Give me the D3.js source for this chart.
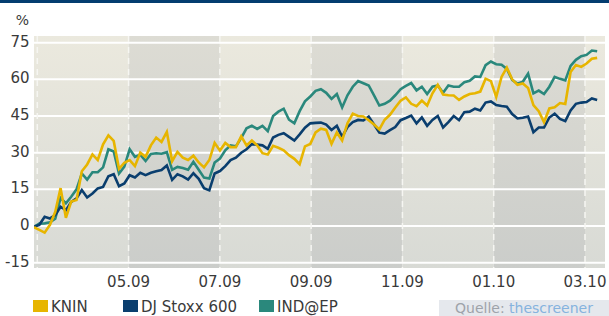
<!DOCTYPE html>
<html>
<head>
<meta charset="utf-8">
<title>KNIN vs DJ Stoxx 600 vs IND@EP</title>
<script src="https://d3js.org/d3.v7.min.js"></script>
<style>
  body { margin: 0; background: #fff; }
  svg text { font-family: "DejaVu Sans", sans-serif; fill: #3a3a3a; }
</style>
</head>
<body>
<svg id="chart" width="609" height="316"></svg>
<script>
// performance in %, one point roughly every 3.5 days (Feb 2009 - Mar 2010)
const knin = [-0.5, -1.6, -2.7, 0.5, 5.8, 15.5, 3.4, 10, 10.7, 22.4,
  25.2, 29.3, 27, 33.4, 37.1, 34.8, 23.4, 25.9, 27, 24.5,
  30, 28.3, 33, 36.2, 34.4, 38.5, 26.5, 30.3, 28, 27,
  28.8, 26, 24, 27, 34, 30.9, 34, 32.3, 32.3, 36.7,
  33, 35, 33, 29.8, 29.3, 32.8, 32, 31, 29, 27.5,
  25.3, 32.6, 33.6, 38.3, 39.8, 39.3, 33.6, 38.3, 35, 42,
  46, 45, 44.8, 43.3, 41.5, 39.5, 43.5, 45.5, 48.5, 51.3,
  52.6, 50, 49, 51.3, 49.3, 54.3, 57.8, 53.8, 53.5, 53.4,
  51.6, 53, 54, 54.3, 55, 60.3, 59.3, 52.8, 61, 64.8,
  60, 57.8, 58.3, 56.5, 49.5, 47, 42.5, 48.1, 48.6, 50.3,
  49.9, 63, 65.9, 65.1, 66.5, 68.4, 68.8];

const stoxx = [-0.3, 0.5, 3.8, 3.1, 4.5, 7.9, 6.5, 9.9, 11.3, 14.7,
  11.7, 13.3, 15.4, 16, 20.4, 21.2, 16.3, 17.4, 20.8, 19.9,
  21.8, 20.8, 21.8, 22.4, 22.9, 24.8, 18.9, 21.2, 20.3, 19,
  21.6, 19.3, 15.5, 14.6, 21.5, 22.5, 24.5, 27, 28, 30,
  31.4, 33.5, 33.3, 33, 31.6, 36.2, 37.3, 38, 36.5, 35,
  37.5, 40.2, 42, 42.2, 42.3, 41.5, 39.3, 41, 36.5, 40.5,
  42.5, 43.4, 43.2, 44.8, 41.5, 38.2, 37.8, 39.2, 40.5, 43.3,
  44.2, 45.2, 42, 44.4, 41, 43.4, 45, 40.3, 42.5, 45,
  43.3, 46.6, 46.8, 48, 47.3, 50.5, 51, 49.5, 49.1, 48.8,
  45.8, 44, 44.3, 44.8, 38.4, 40.3, 40.3, 44.4, 46, 43.8,
  42.9, 47.3, 50, 50.5, 50.7, 52.2, 51.6];

const indep = [-0.3, 1, 1.1, 1.5, 3, 11.5, 9.3, 12, 15, 21.5,
  19, 22, 22, 24, 31.4, 30.5, 21.5, 24.3, 31.4, 28.3,
  29.2, 26.6, 29.5, 29.8, 29.6, 30.2, 23, 24.2, 23.7, 23,
  26.3, 23, 19.8, 19.4, 26, 27.6, 31, 33, 32.6, 36,
  40, 41, 39.7, 41, 38.8, 45, 46.8, 48, 43.5, 42,
  47, 51, 53, 55.3, 56, 54.5, 52, 54, 48.5, 53.5,
  57, 59.3, 58.4, 57.5, 53.5, 49.3, 50, 51.3, 53.5, 56,
  57.3, 58.5, 55.5, 57, 54, 57, 57.5, 54.5, 57.5, 57,
  57, 58.8, 59.4, 61.2, 61, 65.8, 67.3, 66.2, 66, 64.3,
  59.8, 58.2, 59, 62.3, 54.3, 55.4, 54, 57, 61, 60.2,
  59.6, 65.5, 68, 69.5, 70, 71.8, 71.5];

// x axis in months since 03.2009
const firstMonth = -0.072;
const stepMonths = 0.1164;
const monthTicks = [0, 2, 4, 6, 8, 10, 12];
const monthLabels = ["03.09", "05.09", "07.09", "09.09", "11.09", "01.10", "03.10"];
const yTicks = [-15, 0, 15, 30, 45, 60, 75];

const series = [
  { name: "IND@EP", values: indep, color: "#2a887c" },
  { name: "DJ Stoxx 600", values: stoxx, color: "#0a3e6e" },
  { name: "KNIN", values: knin, color: "#e7b500" }
];
const legendOrder = ["KNIN", "DJ Stoxx 600", "IND@EP"];
const legendX = [33, 123, 259];

const svg = d3.select("#chart");
const W = 609, H = 316;
const plot = { left: 34, right: 605, top: 36, bottom: 268 };

const x = d3.scaleLinear().domain([0, 12]).range([37.3, 585]);
const y = d3.scaleLinear().domain([-15, 75]).range([262.7, 42.7]);

// top rule
svg.append("rect").attr("x", 0).attr("y", 0).attr("width", W).attr("height", 3).attr("fill", "#043d70");

// gradients for the bands
const defs = svg.append("defs");
function grad(id, top, bottom) {
  const g = defs.append("linearGradient").attr("id", id)
    .attr("gradientUnits", "userSpaceOnUse")
    .attr("x1", 0).attr("x2", 0).attr("y1", plot.top).attr("y2", plot.bottom);
  g.append("stop").attr("offset", "0%").attr("stop-color", top);
  g.append("stop").attr("offset", "100%").attr("stop-color", bottom);
}
grad("light", "#ebe9de", "#d8dad5");
grad("dark", "#dddcd4", "#cbcdca");

const clip = defs.append("clipPath").attr("id", "clip");
clip.append("rect").attr("x", plot.left).attr("y", plot.top)
  .attr("width", plot.right - plot.left).attr("height", plot.bottom - plot.top);

// bands between every second month
const edges = [x.invert(plot.left)].concat(monthTicks.slice(1), [x.invert(plot.right)]);
const bands = d3.pairs(edges);
svg.append("g").selectAll("rect").data(bands).join("rect")
  .attr("x", d => x(d[0]))
  .attr("width", d => x(d[1]) - x(d[0]))
  .attr("y", plot.top)
  .attr("height", plot.bottom - plot.top)
  .attr("fill", (d, i) => i % 2 ? "url(#dark)" : "url(#light)");

// horizontal grid
svg.append("g").selectAll("line").data(yTicks).join("line")
  .attr("x1", plot.left).attr("x2", plot.right)
  .attr("y1", d => y(d)).attr("y2", d => y(d))
  .attr("stroke", "#fff").attr("stroke-width", 2);

// vertical dashed lines
svg.append("g").selectAll("line").data(monthTicks).join("line")
  .attr("x1", d => x(d)).attr("x2", d => x(d))
  .attr("y1", plot.top).attr("y2", plot.bottom)
  .attr("stroke", "#f6f6f2").attr("stroke-width", 1.5)
  .attr("stroke-dasharray", "6,5");

// lines
const line = d3.line()
  .x((d, i) => x(firstMonth + i * stepMonths))
  .y(d => y(d));

svg.append("g").attr("clip-path", "url(#clip)")
  .selectAll("path").data(series).join("path")
  .attr("fill", "none")
  .attr("stroke", d => d.color)
  .attr("stroke-width", 2.6)
  .attr("stroke-linejoin", "miter")
  .attr("d", d => line(d.values));

// y axis labels
svg.append("g").selectAll("text").data(yTicks).join("text")
  .attr("x", 29.5).attr("y", d => y(d) + 4)
  .attr("text-anchor", "end")
  .attr("font-size", 15)
  .text(d => d);

svg.append("text").attr("x", 29).attr("y", 25)
  .attr("text-anchor", "end").attr("font-size", 14).text("%");

// x axis labels (first tick unlabeled)
svg.append("g").selectAll("text").data(monthTicks.slice(1)).join("text")
  .attr("x", d => x(d)).attr("y", 287)
  .attr("text-anchor", "middle")
  .attr("font-size", 15)
  .text((d, i) => monthLabels[i + 1]);

// legend
const leg = svg.append("g").selectAll("g").data(legendOrder).join("g")
  .attr("transform", (d, i) => `translate(${legendX[i]},300)`);
leg.append("rect").attr("width", 15).attr("height", 12)
  .attr("fill", d => series.find(s => s.name === d).color);
leg.append("text").attr("x", 18).attr("y", 11.5).attr("font-size", 15).text(d => d);

// source box
svg.append("rect").attr("x", 439).attr("y", 300).attr("width", 170).attr("height", 16).attr("fill", "#e5e8ed");
const src = svg.append("text").attr("x", 455).attr("y", 313).attr("font-size", 14);
src.append("tspan").style("fill", "#9ea3aa").text("Quelle: ");
src.append("tspan").style("fill", "#86b3de").text("thescreener");
</script>
</body>
</html>
